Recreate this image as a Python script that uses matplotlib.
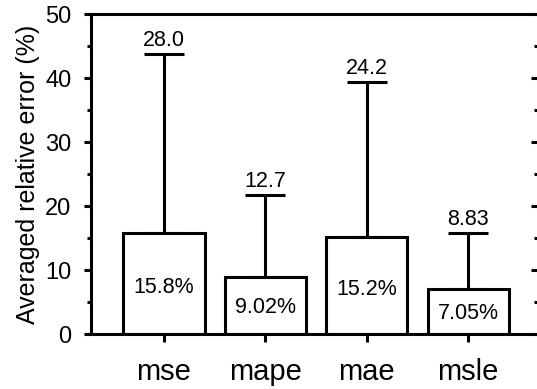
import numpy as np
import matplotlib.pyplot as plt
from matplotlib.ticker import MultipleLocator

plt.rcParams['font.family'] = ['Liberation Sans', 'DejaVu Sans']

# Averaged relative error per loss function (%) and its upper spread
losses = ['mse', 'mape', 'mae', 'msle']
mean_err = [15.8, 9.02, 15.2, 7.05]
upper_err = [28.0, 12.7, 24.2, 8.83]
mean_labels = ['15.8%', '9.02%', '15.2%', '7.05%']
upper_labels = ['28.0', '12.7', '24.2', '8.83']

fig = plt.figure(figsize=(5.37, 3.89), dpi=100)
ax = fig.add_axes([0.1695, 0.1406, 0.8324, 0.8234])

x = np.arange(len(losses))
lw = 2.2

# upward-only error bars drawn behind the bars
ax.errorbar(x, mean_err, yerr=[np.zeros(len(x)), upper_err], fmt='none',
            ecolor='black', elinewidth=lw, capsize=14.5, capthick=lw, zorder=1)
ax.bar(x, mean_err, width=0.8, color='white', edgecolor='black',
       linewidth=lw, zorder=2)

for xi, m, u, ml, ul in zip(x, mean_err, upper_err, mean_labels, upper_labels):
    ax.text(xi, m * 0.46, ml, ha='center', va='center', fontsize=15.5, zorder=3)
    ax.annotate(ul, (xi, m + u), xytext=(0, 2), textcoords='offset points',
                ha='center', va='bottom', fontsize=15.5)

ax.set_xlim(-0.72, 3.69)
ax.set_ylim(0, 50)
ax.set_xticks(x)
ax.set_xticklabels(losses, fontsize=21)
ax.yaxis.set_major_locator(MultipleLocator(10))
ax.yaxis.set_minor_locator(MultipleLocator(5))
ax.tick_params(axis='y', which='major', labelsize=17, length=5, width=lw,
               direction='out', right=True, pad=9)
ax.tick_params(axis='y', which='minor', length=3, width=lw,
               direction='out', right=True)
ax.tick_params(axis='x', length=6, width=lw, direction='out', pad=11)

for spine in ax.spines.values():
    spine.set_linewidth(lw)
ax.spines['right'].set_visible(False)

# right-side ticks point inward
for t in ax.yaxis.get_major_ticks() + ax.yaxis.get_minor_ticks():
    t.tick2line.set_marker(0)

ax.set_ylabel('Averaged relative error (%)', fontsize=18, labelpad=4)

fig.savefig('out.png', dpi=100)
